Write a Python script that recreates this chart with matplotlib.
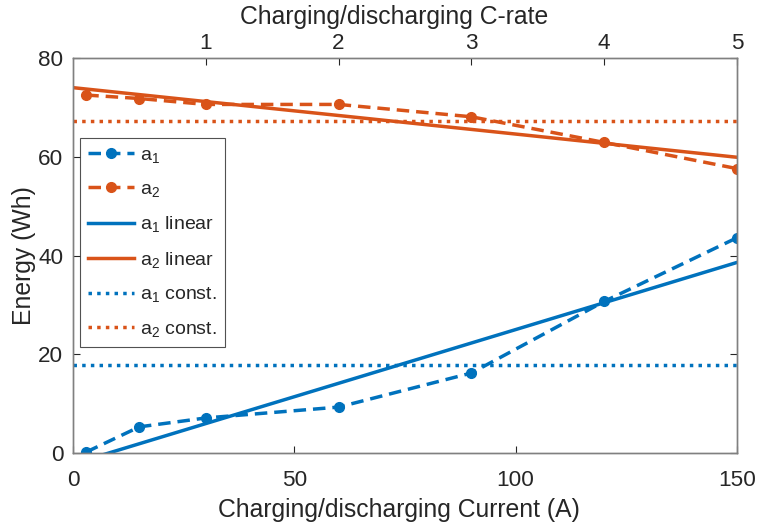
import numpy as np
import matplotlib
matplotlib.use('Agg')
import matplotlib.pyplot as plt

plt.rcParams['font.family'] = ['Liberation Sans', 'DejaVu Sans']
plt.rcParams['mathtext.fontset'] = 'custom'
plt.rcParams['mathtext.rm'] = 'Liberation Sans'
plt.rcParams['mathtext.it'] = 'Liberation Sans'

# measured energy vs charging current
current = [3, 15, 30, 60, 90, 120, 150]
a1 = [0.2, 5.3, 7.1, 9.3, 16.2, 30.7, 43.6]
a2 = [72.5, 71.8, 70.6, 70.6, 68.1, 62.9, 57.6]

# fitted models
a1_lin = [-2.2, 0.272]   # intercept, slope
a2_lin = [74.0, -0.094]
a1_const = 17.8
a2_const = 67.2

c_rate_ticks = [1, 2, 3, 4, 5]

blue = '#0072BD'
red = '#D95319'
axcol = '#262626'

fig = plt.figure(figsize=(7.57, 5.27), dpi=100)
ax = fig.add_axes([0.0964, 0.1404, 0.8772, 0.7495])

lw = 2.5
dash = (0, (3.6, 2.0))
dot = (0, (1.0, 1.5))
xfit = np.array([0, 150])

ax.plot(current, a1, color=blue, lw=lw, linestyle=dash, marker='o', ms=7,
        label=r'a$_1$')
ax.plot(current, a2, color=red, lw=lw, linestyle=dash, marker='o', ms=7,
        label=r'a$_2$')
ax.plot(xfit, a1_lin[0] + a1_lin[1] * xfit, color=blue, lw=lw, label=r'a$_1$ linear')
ax.plot(xfit, a2_lin[0] + a2_lin[1] * xfit, color=red, lw=lw, label=r'a$_2$ linear')
ax.plot(xfit, [a1_const, a1_const], color=blue, lw=lw, linestyle=dot, label=r'a$_1$ const.')
ax.plot(xfit, [a2_const, a2_const], color=red, lw=lw, linestyle=dot, label=r'a$_2$ const.')

ax.set_xlim(0, 150)
ax.set_ylim(0, 80)
ax.set_xticks([0, 50, 100, 150])
ax.set_yticks([0, 20, 40, 60, 80])
ax.tick_params(direction='in', length=5, width=0.8, colors=axcol, labelsize=16.2,
               right=True, top=False)
ax.tick_params(axis='x', pad=12)
ax.tick_params(axis='y', pad=7)
for s in ax.spines.values():
    s.set_color('#808080')
    s.set_linewidth(1)
ax.set_xlabel('Charging/discharging Current (A)', fontsize=17.8, color=axcol, labelpad=5)
ax.set_ylabel('Energy (Wh)', fontsize=17.8, color=axcol, labelpad=1.5)
ax.xaxis.label.set_x(0.491)

top = ax.twiny()
top.set_xlim(0, 5)
top.set_xticks(c_rate_ticks)
top.tick_params(direction='in', length=5, width=0.8, colors=axcol, labelsize=16.2, pad=3)
top.set_xlabel('Charging/discharging C-rate', fontsize=17.8, color=axcol, labelpad=6.5)
top.xaxis.label.set_x(0.483)
for s in top.spines.values():
    s.set_color('#808080')
    s.set_linewidth(1)

leg = ax.legend(loc='upper left', bbox_to_anchor=(0.0105, 0.797), fontsize=14,
                frameon=True, fancybox=False, edgecolor='#262626', handlelength=2.4,
                borderaxespad=0, labelspacing=0.8, handletextpad=0.3,
                borderpad=0.4, markerscale=1.0)
leg.get_frame().set_linewidth(0.8)
for t in leg.get_texts():
    t.set_color(axcol)

fig.savefig('out.png', dpi=100)
